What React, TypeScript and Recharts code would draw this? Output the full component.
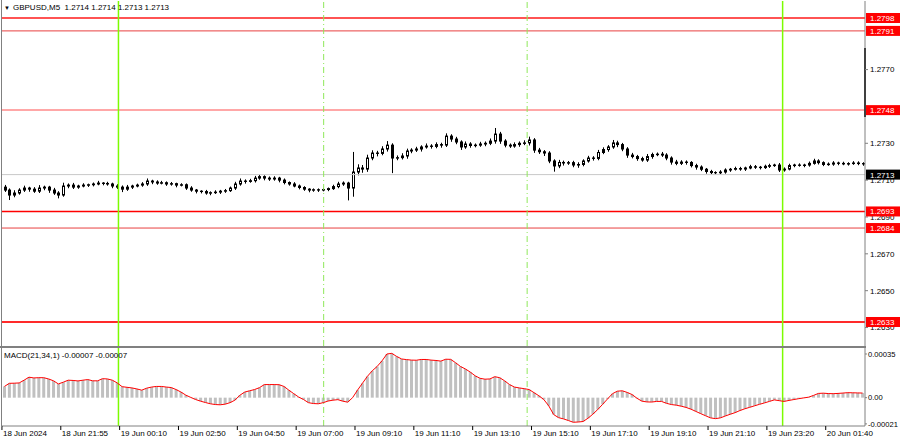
import React from "react";
import { ComposedChart, Bar, Line, XAxis, YAxis, ReferenceLine } from "recharts";

// GBPUSD M5, one entry per two 5-minute bars
const closes = [
  1.27046, 1.27019, 1.2703, 1.27046, 1.27057, 1.27051, 1.2704, 1.27057, 1.27062, 1.27046, 1.2703, 1.27019, 1.27068, 1.27073, 1.27062, 1.27068,
  1.27073, 1.27075, 1.27079, 1.27084, 1.27082, 1.27079, 1.27068, 1.27062, 1.27051, 1.27062, 1.27068, 1.27073, 1.27079, 1.27095, 1.2709, 1.27084,
  1.27086, 1.27079, 1.27081, 1.27073, 1.27075, 1.27057, 1.27046, 1.2704, 1.27038, 1.2703, 1.27032, 1.27035, 1.2704, 1.27043, 1.27057, 1.27079,
  1.27095, 1.27093, 1.27097, 1.27111, 1.27119, 1.27111, 1.27106, 1.27111, 1.271, 1.27087, 1.27079, 1.27068, 1.2706, 1.27051, 1.27046, 1.27048,
  1.27046, 1.27049, 1.27054, 1.27065, 1.27079, 1.27084, 1.27057, 1.27144, 1.27166, 1.2716, 1.2722, 1.27247, 1.27245, 1.27269, 1.2729, 1.2722,
  1.27222, 1.27231, 1.27258, 1.27263, 1.27269, 1.2728, 1.27285, 1.27283, 1.27293, 1.2729, 1.27339, 1.27323, 1.27307, 1.2728, 1.27296, 1.27288,
  1.2729, 1.27296, 1.273, 1.27312, 1.2735, 1.27312, 1.2729, 1.27285, 1.27293, 1.273, 1.27302, 1.27318, 1.27263, 1.27254, 1.27247, 1.27204,
  1.27177, 1.27196, 1.27193, 1.27195, 1.27182, 1.27185, 1.27204, 1.2722, 1.27218, 1.2725, 1.27266, 1.2728, 1.27302, 1.27293, 1.27269, 1.27236,
  1.27228, 1.27217, 1.27209, 1.27228, 1.27239, 1.27241, 1.27236, 1.2722, 1.27198, 1.27191, 1.27198, 1.27196, 1.27179, 1.27171, 1.27159, 1.27147,
  1.27141, 1.2714, 1.27144, 1.27155, 1.27159, 1.27163, 1.2716, 1.27166, 1.27173, 1.2717, 1.27168, 1.27175, 1.27179, 1.27182, 1.27155, 1.2716,
  1.27179, 1.27182, 1.2718, 1.27182, 1.27191, 1.27204, 1.27195, 1.27185, 1.27187, 1.27193, 1.27191, 1.27188, 1.2719, 1.27193, 1.2719, 1.27188,
];
const firstOpen = 1.27062;

// wick lengths in points (0.00001)
const wickUp = [
  12, 9, 15, 10, 13, 7, 11, 16, 8, 7, 12, 10, 18, 9, 12, 7,
  10, 6, 8, 12, 5, 9, 7, 10, 9, 12, 7, 8, 10, 14, 7, 9,
  10, 7, 9, 5, 8, 7, 10, 6, 5, 9, 7, 10, 7, 9, 8, 12,
  14, 9, 10, 12, 10, 7, 9, 10, 7, 9, 6, 10, 8, 7, 5, 7,
  7, 9, 6, 10, 12, 9, 7, 109, 20, 16, 18, 15, 12, 15, 22, 10,
  12, 15, 13, 10, 12, 9, 14, 10, 12, 10, 15, 10, 12, 9, 14, 10,
  9, 12, 10, 14, 33, 12, 10, 9, 12, 10, 14, 18, 10, 12, 9, 10,
  9, 14, 10, 9, 10, 12, 9, 12, 10, 14, 12, 10, 16, 12, 9, 10,
  12, 9, 10, 14, 10, 9, 12, 10, 9, 12, 10, 9, 7, 10, 9, 7,
  9, 7, 10, 9, 7, 10, 9, 7, 10, 9, 7, 9, 10, 7, 11, 9,
  10, 7, 9, 7, 10, 12, 9, 7, 9, 10, 7, 9, 7, 10, 9, 7,
];
const wickDown = [
  10, 27, 12, 9, 10, 14, 9, 10, 12, 15, 10, 18, 9, 12, 10, 9,
  7, 10, 9, 7, 10, 9, 12, 10, 16, 9, 10, 7, 9, 10, 12, 9,
  7, 10, 9, 12, 7, 10, 9, 12, 10, 9, 12, 7, 10, 9, 7, 10,
  9, 12, 7, 10, 9, 12, 10, 9, 12, 10, 9, 7, 10, 9, 12, 9,
  10, 7, 9, 7, 9, 10, 67, 47, 18, 20, 15, 12, 16, 10, 14, 82,
  12, 10, 15, 12, 10, 14, 9, 12, 10, 14, 10, 15, 12, 16, 10, 12,
  10, 9, 12, 10, 14, 15, 12, 10, 9, 12, 10, 14, 15, 12, 16, 12,
  31, 12, 14, 10, 12, 15, 10, 9, 12, 10, 9, 12, 10, 14, 12, 15,
  10, 12, 9, 10, 12, 9, 10, 12, 14, 10, 9, 12, 10, 14, 10, 12,
  9, 10, 7, 9, 10, 7, 9, 10, 7, 9, 10, 7, 9, 7, 11, 9,
  7, 9, 7, 10, 9, 7, 10, 9, 7, 9, 10, 7, 9, 7, 9, 10,
];

// MACD(21,34,1) in units of 0.00001
const macdPts = [
  9, 11.5, 11.6, 11.8, 14, 16.4, 15.8, 16, 16, 15, 13.5, 11, 12.4, 14, 13.8, 13.4,
  14, 14.5, 13.5, 13.5, 15.2, 15, 14, 11.8, 8.8, 8.3, 7.8, 7, 6, 7.6, 8.5, 9,
  9, 8.5, 8.1, 6.5, 4.5, 2, 0.2, -1.5, -2.8, -3.9, -4.9, -5.5, -5.7, -5.2, -4, -2,
  1.9, 4.5, 5.5, 6.5, 8, 10.5, 10.5, 10.5, 10.4, 9, 6, 3.2, 0.5, -1.5, -4, -4.7,
  -4.9, -4, -2.7, -2, -1.6, -2.8, -3.6, 0, 6, 11.5, 17, 21.5, 25, 29.5, 35, 35.5,
  33, 31, 30.5, 30.1, 30, 30.6, 30.6, 30.1, 29.8, 29.3, 30.8, 30.7, 28, 25, 23, 20.5,
  17.5, 15.5, 14.8, 15, 16.8, 16, 13.5, 10.5, 8.5, 7.8, 7.2, 6.5, 4, 1.5, -1.5, -6.5,
  -13.5, -16, -17, -18.3, -19.7, -19.5, -19.1, -16.5, -13.2, -9.5, -5.3, -1, 3.2, 5.2, 5.5, 4.2,
  2.5, -0.5, -2.8, -3.4, -3.5, -3, -3, -4.5, -5.5, -6, -6.8, -7.8, -9.2, -11, -12.8, -14.5,
  -16.2, -16.8, -16.2, -14.7, -13.3, -12, -10.3, -8.9, -7.7, -6.5, -5.3, -4.2, -3, -1.8, -2.4, -3,
  -2.2, -1.5, -0.8, -0.2, 0.4, 1.8, 3.4, 3.6, 3.3, 3.2, 3.4, 3.7, 4, 3.9, 3.8, 3.7,
];

const timeLabels = [
  "18 Jun 2024", "18 Jun 21:55", "19 Jun 00:10", "19 Jun 02:50", "19 Jun 04:50",
  "19 Jun 07:00", "19 Jun 09:10", "19 Jun 11:10", "19 Jun 13:10", "19 Jun 15:10",
  "19 Jun 17:10", "19 Jun 19:10", "19 Jun 21:10", "19 Jun 23:20", "20 Jun 01:40",
];
const labelEvery = 12;

const levels = [1.2798, 1.2791, 1.2748, 1.2693, 1.2684, 1.2633];
const lastPrice = 1.2713;
const priceTicks = [1.277, 1.273, 1.271, 1.269, 1.267, 1.265, 1.263];
const macdTicks = [0.00035, 0, -0.00021];
const macdTickText = ["0.00035", "0.00", "-0.00021"];
const daySeparators = [23.25, 158.7];
const sessionMarks = [65.1, 106.6];
const scrollMark = [1.27817, 1.27443];

const levelStyle = [
  { stroke: "#ff1a1a", width: 1.5 },
  { stroke: "#e84040", width: 1 },
  { stroke: "#ff8a8a", width: 1.5 },
  { stroke: "#ff0000", width: 1.5 },
  { stroke: "#e84040", width: 1 },
  { stroke: "#ff2a2a", width: 2 },
];

const FONT = "'Liberation Sans', Arial, sans-serif";
const W = 900;
const N = closes.length;
const X_DOMAIN: [number, number] = [-0.5, N - 0.5];
const PRICE_DOMAIN: [number, number] = [1.261997, 1.280723];
const MACD_DOMAIN: [number, number] = [-0.000227, 0.000398];

const candles = closes.map((close, i) => {
  const open = i === 0 ? firstOpen : closes[i - 1];
  const high = Math.max(open, close) + wickUp[i] * 1e-5;
  const low = Math.min(open, close) - wickDown[i] * 1e-5;
  return { i, open, close, high, low };
});

const macdData = macdPts.map((v, i) => ({ i, macd: v * 1e-5 }));
const timeTicks = timeLabels.map((_, k) => k * labelEvery);

const Candle = (props: any) => {
  const { x, y, width, height, payload } = props;
  const { open, close, high, low } = payload;
  const top = Math.min(y, y + height);
  const h = Math.abs(height);
  const span = high - low;
  const py = (v: number) => (span > 0 ? top + ((high - v) / span) * h : top);
  const cx = Math.round(x + width / 2) + 0.5;
  const bTop = py(Math.max(open, close));
  const bBot = py(Math.min(open, close));
  const bull = close > open;
  return (
    <g>
      <line x1={cx} x2={cx} y1={top} y2={top + h} stroke="#000" strokeWidth={1} />
      {bull ? (
        <rect x={cx - 1} y={bTop} width={2} height={Math.max(bBot - bTop, 0.5)} fill="#fff" stroke="#000" strokeWidth={1} />
      ) : (
        <rect x={cx - 1.5} y={bTop - 0.5} width={3} height={Math.max(bBot - bTop, 0) + 1} fill="#000" />
      )}
    </g>
  );
};

const PriceTag = ({ viewBox, text, fill }: any) => {
  if (!viewBox) return null;
  const x = viewBox.x + viewBox.width + 1;
  const y = viewBox.y;
  return (
    <g>
      <rect x={x} y={y - 5} width={W - x} height={10} fill={fill} />
      <text x={x + 4} y={y + 3} fontSize={8} fill="#fff" fontFamily={FONT}>
        {text}
      </text>
    </g>
  );
};

const TimeTick = (props: any) => {
  const { x, y, payload } = props;
  const text = timeLabels[Math.round(payload.value / labelEvery)];
  return (
    <g>
      <line x1={x - 2.5} x2={x - 2.5} y1={y} y2={y + 4} stroke="#000" />
      <text x={x - 1.5} y={y + 10} fontSize={8} fill="#000" fontFamily={FONT}>
        {text}
      </text>
    </g>
  );
};

const axisTick = { fontSize: 8, fill: "#000", fontFamily: FONT };

export default function App() {
  return (
    <div style={{ position: "absolute", left: 0, top: 0, width: W, height: 441, background: "#fff", overflow: "hidden" }}>
      {/* price panel */}
      <div style={{ position: "absolute", left: 0, top: 0 }}>
        <ComposedChart width={W} height={346} data={candles} margin={{ top: 1, right: 0, bottom: 0, left: 2 }}>
          <XAxis dataKey="i" type="number" domain={X_DOMAIN} hide />
          <YAxis
            orientation="right"
            width={35}
            domain={PRICE_DOMAIN}
            allowDataOverflow
            ticks={priceTicks}
            interval={0}
            tickFormatter={(v: number) => v.toFixed(4)}
            tick={axisTick}
            tickSize={3}
            tickMargin={2}
            axisLine={{ stroke: "#808080" }}
            tickLine={{ stroke: "#808080" }}
          />
          <ReferenceLine y={lastPrice} stroke="#c8c8c8" strokeWidth={1} />
          {levels.map((lv, k) => (
            <ReferenceLine key={lv} y={lv} stroke={levelStyle[k].stroke} strokeWidth={levelStyle[k].width} />
          ))}
          {daySeparators.map((d) => (
            <ReferenceLine key={d} x={d} stroke="#7cfc00" strokeWidth={1.5} />
          ))}
          {sessionMarks.map((d) => (
            <ReferenceLine key={d} x={d} stroke="#8fe85a" strokeWidth={1} strokeDasharray="6 3 1 3" />
          ))}
          <ReferenceLine
            segment={[{ x: N - 0.5, y: scrollMark[0] }, { x: N - 0.5, y: scrollMark[1] }]}
            stroke="#000"
            strokeWidth={2}
            ifOverflow="visible"
          />
          <Bar dataKey={(d: any) => [d.low, d.high]} barSize={3} shape={(p: any) => <Candle {...p} />} isAnimationActive={false} />
        </ComposedChart>
      </div>

      {/* price tags on top of the scale */}
      <div style={{ position: "absolute", left: 0, top: 0 }}>
        <ComposedChart width={W} height={346} data={candles} margin={{ top: 1, right: 0, bottom: 0, left: 2 }}>
          <XAxis dataKey="i" type="number" domain={X_DOMAIN} hide />
          <YAxis orientation="right" width={35} domain={PRICE_DOMAIN} allowDataOverflow tick={false} axisLine={false} tickLine={false} />
          {levels.map((lv) => (
            <ReferenceLine
              key={lv}
              y={lv}
              stroke="none"
              label={(p: any) => <PriceTag viewBox={p.viewBox} text={lv.toFixed(4)} fill="#ff0000" />}
            />
          ))}
          <ReferenceLine
            y={lastPrice}
            stroke="none"
            label={(p: any) => <PriceTag viewBox={p.viewBox} text={lastPrice.toFixed(4)} fill="#000" />}
          />
        </ComposedChart>
      </div>

      <div style={{ position: "absolute", left: 4, top: 3, fontSize: 8, fontFamily: FONT, color: "#000", whiteSpace: "pre" }}>
        <span style={{ fontSize: 6, marginRight: 3 }}>▼</span>
        {"GBPUSD,M5  1.2714 1.2714 1.2713 1.2713"}
      </div>

      {/* panel separator */}
      <div style={{ position: "absolute", left: 0, top: 346, width: 866, height: 2, background: "#808080" }} />

      {/* MACD panel */}
      <div style={{ position: "absolute", left: 0, top: 348 }}>
        <ComposedChart width={W} height={93} data={macdData} margin={{ top: 0, right: 0, bottom: 0, left: 2 }}>
          <XAxis
            dataKey="i"
            type="number"
            domain={X_DOMAIN}
            ticks={timeTicks}
            interval={0}
            height={15}
            tick={(p: any) => <TimeTick {...p} />}
            tickSize={0}
            tickMargin={0}
            tickLine={false}
            axisLine={{ stroke: "#808080" }}
          />
          <YAxis
            orientation="right"
            width={35}
            domain={MACD_DOMAIN}
            allowDataOverflow
            ticks={macdTicks}
            interval={0}
            tickFormatter={(v: number) => macdTickText[macdTicks.indexOf(v)] ?? ""}
            tick={{ ...axisTick, fontSize: 7.6 }}
            tickSize={2}
            tickMargin={1}
            axisLine={{ stroke: "#808080" }}
            tickLine={{ stroke: "#808080" }}
          />
          {daySeparators.map((d) => (
            <ReferenceLine key={d} x={d} stroke="#7cfc00" strokeWidth={1.5} />
          ))}
          {sessionMarks.map((d) => (
            <ReferenceLine key={d} x={d} stroke="#8fe85a" strokeWidth={1} strokeDasharray="6 3 1 3" />
          ))}
          <Bar dataKey="macd" barSize={3} fill="#c0c0c0" isAnimationActive={false} />
          <Line dataKey="macd" type="linear" stroke="#ff0000" strokeWidth={1} dot={false} isAnimationActive={false} />
        </ComposedChart>
      </div>

      <div style={{ position: "absolute", left: 4, top: 351, fontSize: 8, fontFamily: FONT, color: "#000", whiteSpace: "pre" }}>
        MACD(21,34,1) -0.00007 -0.00007
      </div>

      {/* left frame */}
      <div style={{ position: "absolute", left: 1, top: 0, width: 1, height: 427, background: "#808080" }} />
    </div>
  );
}
